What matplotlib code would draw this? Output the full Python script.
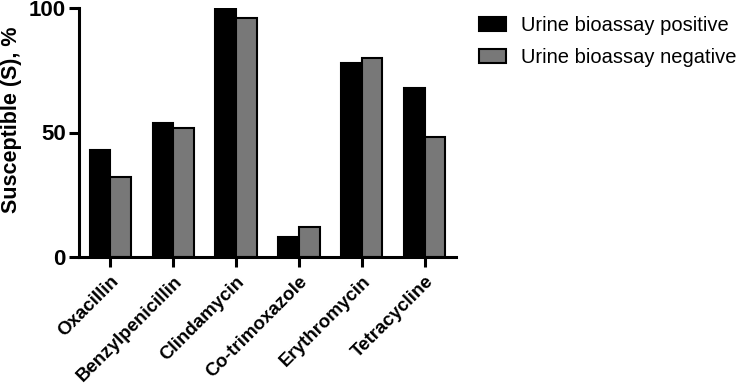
import numpy as np
import matplotlib.pyplot as plt

plt.rcParams['font.family'] = ['Liberation Sans', 'DejaVu Sans']

drugs = ['Oxacillin', 'Benzylpenicillin', 'Clindamycin', 'Co-trimoxazole', 'Erythromycin', 'Tetracycline']
positive = [43, 54, 100, 8, 78, 68]
negative = [32, 52, 96, 12, 80, 48]
series_names = ['Urine bioassay positive', 'Urine bioassay negative']

fig = plt.figure(figsize=(7.44, 3.85), dpi=100)
ax = fig.add_axes([79 / 744, 128 / 385, 377 / 744, 249 / 385])

x = np.arange(len(drugs))
w = 0.33
ax.bar(x - w / 2, positive, w, color='black', edgecolor='black', linewidth=1.5, label=series_names[0])
ax.bar(x + w / 2, negative, w, color='#787878', edgecolor='black', linewidth=1.5, label=series_names[1])

ax.set_xlim(-0.5, len(drugs) - 0.5)
ax.set_ylim(0, 100)
ax.set_yticks([0, 50, 100])
ax.set_xticks(x)
ax.set_xticklabels(drugs, rotation=45, ha='right', rotation_mode='anchor', fontsize=13.5, fontweight='bold')
for lab in ax.get_yticklabels():
    lab.set_fontweight('bold')
    lab.set_fontsize(16)
ax.set_ylabel('Susceptible (S), %', fontsize=15.5, fontweight='bold')
ax.yaxis.set_label_coords(-0.152, 0.55)

for s in ['top', 'right']:
    ax.spines[s].set_visible(False)
for s in ['left', 'bottom']:
    ax.spines[s].set_linewidth(2.2)
ax.tick_params(width=2.2, length=7.5, direction='out', pad=2)
ax.tick_params(axis='x', pad=4)

ax.legend(loc='upper left', bbox_to_anchor=(1.013, 1.04), frameon=False, fontsize=14.5,
          handlelength=1.35, handleheight=0.7, handletextpad=0.75, labelspacing=0.62)

fig.savefig('out.png', dpi=100)
